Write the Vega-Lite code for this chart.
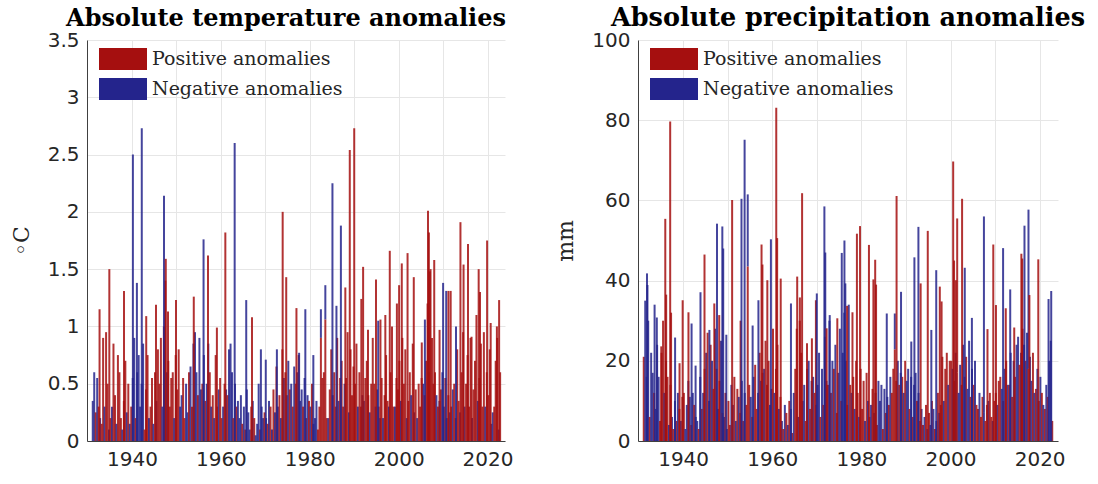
{
"$schema":"https://vega.github.io/schema/vega-lite/v6.json",
"background":"white",
"padding":{"left":10,"top":5,"right":5,"bottom":5},
"bounds":"flush",
"spacing":133,
"config":{
"view":{"stroke":null},
"axis":{"labelFont":"DejaVu Sans","labelFontSize":20,"labelColor":"#262626","titleFont":"DejaVu Serif","titleFontWeight":"normal","titleFontSize":22,"titleColor":"#262626","gridColor":"#e6e6e6","domainColor":"#404040","ticks":false},
"title":{"font":"DejaVu Serif","fontWeight":"bold","fontSize":24,"color":"#000000","baseline":"alphabetic","offset":-1},
"legend":{"orient":"none","legendX":24,"legendY":7,"title":null,"padding":0,"labelFont":"DejaVu Serif","labelFontSize":19,"labelColor":"#262626","labelLimit":0,"symbolType":"M-2,-0.92H2V0.92H-2Z","symbolSize":576,"symbolOpacity":1,"symbolStrokeWidth":0,"rowPadding":6,"labelOffset":17}
},
"datasets":{
"temp":[
{"t":1931.17,"v":0.35,"s":"N"},{"t":1931.5,"v":0.6,"s":"N"},{"t":1931.83,"v":0.25,"s":"P"},
{"t":1932.17,"v":0.55,"s":"N"},{"t":1932.5,"v":0.3,"s":"P"},{"t":1932.83,"v":0.2,"s":"N"},
{"t":1933.17,"v":0.15,"s":"P"},{"t":1933.5,"v":0.9,"s":"P"},{"t":1933.83,"v":0.3,"s":"N"},
{"t":1934.17,"v":0.95,"s":"P"},{"t":1934.5,"v":0.5,"s":"P"},{"t":1934.83,"v":0.1,"s":"N"},
{"t":1935.17,"v":0.2,"s":"P"},{"t":1935.5,"v":0.3,"s":"N"},{"t":1935.83,"v":0.85,"s":"P"},
{"t":1936.17,"v":0.4,"s":"P"},{"t":1936.5,"v":0.15,"s":"N"},{"t":1936.83,"v":0.75,"s":"P"},
{"t":1937.17,"v":0.6,"s":"P"},{"t":1937.5,"v":0.2,"s":"P"},{"t":1937.83,"v":0.1,"s":"N"},
{"t":1938.17,"v":0.35,"s":"P"},{"t":1938.5,"v":0.7,"s":"P"},{"t":1938.83,"v":0.25,"s":"N"},
{"t":1939.17,"v":0.5,"s":"P"},{"t":1939.5,"v":0.15,"s":"N"},{"t":1939.83,"v":0.3,"s":"P"},
{"t":1940.17,"v":0.55,"s":"N"},{"t":1940.5,"v":0.9,"s":"N"},{"t":1940.83,"v":0.2,"s":"P"},
{"t":1941.17,"v":0.6,"s":"N"},{"t":1941.5,"v":0.75,"s":"N"},{"t":1941.83,"v":0.3,"s":"N"},
{"t":1942.17,"v":0.5,"s":"N"},{"t":1942.5,"v":0.85,"s":"N"},{"t":1942.83,"v":0.1,"s":"P"},
{"t":1943.17,"v":0.45,"s":"P"},{"t":1943.5,"v":0.75,"s":"P"},{"t":1943.83,"v":0.2,"s":"N"},
{"t":1944.17,"v":0.3,"s":"P"},{"t":1944.5,"v":0.55,"s":"P"},{"t":1944.83,"v":0.15,"s":"N"},
{"t":1945.17,"v":0.6,"s":"P"},{"t":1945.5,"v":0.35,"s":"N"},{"t":1945.83,"v":0.8,"s":"P"},
{"t":1946.17,"v":0.5,"s":"P"},{"t":1946.5,"v":0.9,"s":"P"},{"t":1946.83,"v":0.3,"s":"N"},
{"t":1947.17,"v":1.0,"s":"P"},{"t":1947.5,"v":1.4,"s":"P"},{"t":1947.83,"v":0.6,"s":"N"},
{"t":1948.17,"v":0.7,"s":"P"},{"t":1948.5,"v":0.3,"s":"P"},{"t":1948.83,"v":0.55,"s":"P"},
{"t":1949.17,"v":0.6,"s":"P"},{"t":1949.5,"v":0.2,"s":"N"},{"t":1949.83,"v":0.75,"s":"P"},
{"t":1950.17,"v":0.45,"s":"P"},{"t":1950.5,"v":0.8,"s":"P"},{"t":1950.83,"v":0.3,"s":"N"},
{"t":1951.17,"v":0.4,"s":"N"},{"t":1951.5,"v":0.55,"s":"P"},{"t":1951.83,"v":0.2,"s":"P"},
{"t":1952.17,"v":0.5,"s":"N"},{"t":1952.5,"v":0.25,"s":"N"},{"t":1952.83,"v":0.6,"s":"P"},
{"t":1953.17,"v":0.65,"s":"N"},{"t":1953.5,"v":0.3,"s":"P"},{"t":1953.83,"v":0.85,"s":"N"},
{"t":1954.17,"v":0.95,"s":"N"},{"t":1954.5,"v":0.6,"s":"N"},{"t":1954.83,"v":0.4,"s":"P"},
{"t":1955.17,"v":0.9,"s":"N"},{"t":1955.5,"v":0.45,"s":"N"},{"t":1955.83,"v":0.5,"s":"P"},
{"t":1956.17,"v":0.75,"s":"N"},{"t":1956.5,"v":0.35,"s":"P"},{"t":1956.83,"v":0.5,"s":"N"},
{"t":1957.17,"v":0.85,"s":"N"},{"t":1957.5,"v":0.6,"s":"P"},{"t":1957.83,"v":0.3,"s":"N"},
{"t":1958.17,"v":0.4,"s":"P"},{"t":1958.5,"v":0.2,"s":"N"},{"t":1958.83,"v":0.75,"s":"P"},
{"t":1959.17,"v":0.3,"s":"P"},{"t":1959.5,"v":0.45,"s":"N"},{"t":1959.83,"v":0.55,"s":"P"},
{"t":1960.17,"v":0.2,"s":"P"},{"t":1960.5,"v":0.3,"s":"N"},{"t":1960.83,"v":0.5,"s":"P"},
{"t":1961.17,"v":0.45,"s":"N"},{"t":1961.5,"v":0.4,"s":"P"},{"t":1961.83,"v":0.8,"s":"N"},
{"t":1962.17,"v":0.85,"s":"N"},{"t":1962.5,"v":0.6,"s":"N"},{"t":1962.83,"v":0.2,"s":"P"},
{"t":1963.17,"v":0.5,"s":"N"},{"t":1963.5,"v":0.3,"s":"P"},{"t":1963.83,"v":0.35,"s":"N"},
{"t":1964.17,"v":0.2,"s":"N"},{"t":1964.5,"v":0.4,"s":"N"},{"t":1964.83,"v":0.15,"s":"P"},
{"t":1965.17,"v":0.3,"s":"N"},{"t":1965.5,"v":0.1,"s":"P"},{"t":1965.83,"v":0.45,"s":"N"},
{"t":1966.17,"v":0.25,"s":"N"},{"t":1966.5,"v":0.1,"s":"N"},{"t":1966.83,"v":0.3,"s":"P"},
{"t":1967.17,"v":0.35,"s":"N"},{"t":1967.5,"v":0.2,"s":"P"},{"t":1967.83,"v":0.05,"s":"N"},
{"t":1968.17,"v":0.15,"s":"N"},{"t":1968.5,"v":0.5,"s":"N"},{"t":1968.83,"v":0.1,"s":"P"},
{"t":1969.17,"v":0.3,"s":"N"},{"t":1969.5,"v":0.2,"s":"N"},{"t":1969.83,"v":0.25,"s":"P"},
{"t":1970.17,"v":0.2,"s":"N"},{"t":1970.5,"v":0.15,"s":"P"},{"t":1970.83,"v":0.35,"s":"N"},
{"t":1971.17,"v":0.3,"s":"P"},{"t":1971.5,"v":0.1,"s":"N"},{"t":1971.83,"v":0.45,"s":"P"},
{"t":1972.17,"v":0.25,"s":"N"},{"t":1972.5,"v":0.65,"s":"P"},{"t":1972.83,"v":0.3,"s":"N"},
{"t":1973.17,"v":0.4,"s":"P"},{"t":1973.5,"v":0.2,"s":"N"},{"t":1973.83,"v":0.8,"s":"P"},
{"t":1974.17,"v":0.55,"s":"N"},{"t":1974.5,"v":0.6,"s":"P"},{"t":1974.83,"v":0.4,"s":"N"},
{"t":1975.17,"v":0.7,"s":"N"},{"t":1975.5,"v":0.45,"s":"P"},{"t":1975.83,"v":0.5,"s":"N"},
{"t":1976.17,"v":0.3,"s":"P"},{"t":1976.5,"v":0.65,"s":"N"},{"t":1976.83,"v":0.5,"s":"P"},
{"t":1977.17,"v":0.6,"s":"N"},{"t":1977.5,"v":0.75,"s":"P"},{"t":1977.83,"v":0.35,"s":"N"},
{"t":1978.17,"v":0.45,"s":"N"},{"t":1978.5,"v":0.3,"s":"P"},{"t":1978.83,"v":0.55,"s":"N"},
{"t":1979.17,"v":0.2,"s":"P"},{"t":1979.5,"v":0.4,"s":"N"},{"t":1979.83,"v":0.35,"s":"P"},
{"t":1980.17,"v":0.3,"s":"N"},{"t":1980.5,"v":0.5,"s":"P"},{"t":1980.83,"v":0.15,"s":"N"},
{"t":1981.17,"v":0.2,"s":"N"},{"t":1981.5,"v":0.35,"s":"N"},{"t":1981.83,"v":0.1,"s":"P"},
{"t":1982.17,"v":0.3,"s":"P"},{"t":1982.5,"v":0.25,"s":"N"},{"t":1982.83,"v":0.55,"s":"P"},
{"t":1983.17,"v":0.6,"s":"P"},{"t":1983.5,"v":0.3,"s":"N"},{"t":1983.83,"v":0.2,"s":"P"},
{"t":1984.17,"v":0.2,"s":"N"},{"t":1984.5,"v":0.45,"s":"P"},{"t":1984.83,"v":0.8,"s":"P"},
{"t":1985.17,"v":0.4,"s":"N"},{"t":1985.5,"v":0.6,"s":"P"},{"t":1985.83,"v":0.3,"s":"P"},
{"t":1986.17,"v":0.9,"s":"P"},{"t":1986.5,"v":0.35,"s":"N"},{"t":1986.83,"v":0.55,"s":"P"},
{"t":1987.17,"v":0.7,"s":"P"},{"t":1987.5,"v":0.3,"s":"P"},{"t":1987.83,"v":0.5,"s":"N"},
{"t":1988.17,"v":0.55,"s":"P"},{"t":1988.5,"v":0.95,"s":"P"},{"t":1988.83,"v":0.25,"s":"N"},
{"t":1989.17,"v":0.8,"s":"P"},{"t":1989.5,"v":0.4,"s":"P"},{"t":1989.83,"v":0.65,"s":"P"},
{"t":1990.17,"v":0.5,"s":"P"},{"t":1990.5,"v":0.85,"s":"P"},{"t":1990.83,"v":0.3,"s":"N"},
{"t":1991.17,"v":0.6,"s":"P"},{"t":1991.5,"v":0.3,"s":"P"},{"t":1991.83,"v":0.4,"s":"N"},
{"t":1992.17,"v":0.35,"s":"N"},{"t":1992.5,"v":0.55,"s":"P"},{"t":1992.83,"v":0.7,"s":"P"},
{"t":1993.17,"v":0.4,"s":"P"},{"t":1993.5,"v":0.25,"s":"N"},{"t":1993.83,"v":0.5,"s":"P"},
{"t":1994.17,"v":0.9,"s":"P"},{"t":1994.5,"v":0.5,"s":"P"},{"t":1994.83,"v":0.3,"s":"N"},
{"t":1995.17,"v":0.45,"s":"N"},{"t":1995.5,"v":0.3,"s":"P"},{"t":1995.83,"v":0.2,"s":"N"},
{"t":1996.17,"v":0.55,"s":"P"},{"t":1996.5,"v":0.2,"s":"N"},{"t":1996.83,"v":0.4,"s":"P"},
{"t":1997.17,"v":0.75,"s":"P"},{"t":1997.5,"v":0.35,"s":"P"},{"t":1997.83,"v":0.3,"s":"N"},
{"t":1998.17,"v":0.6,"s":"P"},{"t":1998.5,"v":1.0,"s":"P"},{"t":1998.83,"v":0.3,"s":"P"},
{"t":1999.17,"v":0.3,"s":"N"},{"t":1999.5,"v":0.55,"s":"P"},{"t":1999.83,"v":0.45,"s":"P"},
{"t":2000.17,"v":0.7,"s":"P"},{"t":2000.5,"v":0.35,"s":"N"},{"t":2000.83,"v":0.9,"s":"P"},
{"t":2001.17,"v":0.5,"s":"P"},{"t":2001.5,"v":0.8,"s":"P"},{"t":2001.83,"v":0.2,"s":"N"},
{"t":2002.17,"v":0.35,"s":"P"},{"t":2002.5,"v":0.6,"s":"P"},{"t":2002.83,"v":0.4,"s":"N"},
{"t":2003.17,"v":0.85,"s":"P"},{"t":2003.5,"v":0.25,"s":"N"},{"t":2003.83,"v":0.45,"s":"P"},
{"t":2004.17,"v":0.2,"s":"N"},{"t":2004.5,"v":0.5,"s":"P"},{"t":2004.83,"v":0.3,"s":"P"},
{"t":2005.17,"v":0.55,"s":"P"},{"t":2005.5,"v":0.5,"s":"N"},{"t":2005.83,"v":0.4,"s":"P"},
{"t":2006.17,"v":0.7,"s":"P"},{"t":2006.5,"v":1.2,"s":"P"},{"t":2006.83,"v":0.6,"s":"P"},
{"t":2007.17,"v":1.5,"s":"P"},{"t":2007.5,"v":0.9,"s":"P"},{"t":2007.83,"v":0.5,"s":"P"},
{"t":2008.17,"v":0.6,"s":"P"},{"t":2008.5,"v":0.4,"s":"N"},{"t":2008.83,"v":0.3,"s":"P"},
{"t":2009.17,"v":0.35,"s":"N"},{"t":2009.5,"v":0.45,"s":"P"},{"t":2009.83,"v":0.6,"s":"N"},
{"t":2010.17,"v":0.3,"s":"N"},{"t":2010.5,"v":0.55,"s":"P"},{"t":2010.83,"v":0.2,"s":"N"},
{"t":2011.17,"v":0.4,"s":"P"},{"t":2011.5,"v":0.25,"s":"N"},{"t":2011.83,"v":0.3,"s":"P"},
{"t":2012.17,"v":0.45,"s":"N"},{"t":2012.5,"v":0.5,"s":"P"},{"t":2012.83,"v":0.2,"s":"P"},
{"t":2013.17,"v":0.8,"s":"P"},{"t":2013.5,"v":0.35,"s":"P"},{"t":2013.83,"v":0.25,"s":"N"},
{"t":2014.17,"v":0.6,"s":"P"},{"t":2014.5,"v":0.95,"s":"P"},{"t":2014.83,"v":0.3,"s":"N"},
{"t":2015.17,"v":0.5,"s":"P"},{"t":2015.5,"v":0.75,"s":"P"},{"t":2015.83,"v":0.3,"s":"P"},
{"t":2016.17,"v":0.9,"s":"P"},{"t":2016.5,"v":0.2,"s":"N"},{"t":2016.83,"v":0.45,"s":"P"},
{"t":2017.17,"v":0.7,"s":"P"},{"t":2017.5,"v":1.1,"s":"P"},{"t":2017.83,"v":0.35,"s":"N"},
{"t":2018.17,"v":0.55,"s":"P"},{"t":2018.5,"v":0.85,"s":"P"},{"t":2018.83,"v":0.3,"s":"P"},
{"t":2019.17,"v":0.95,"s":"P"},{"t":2019.5,"v":0.3,"s":"N"},{"t":2019.83,"v":0.6,"s":"P"},
{"t":2020.17,"v":0.4,"s":"P"},{"t":2020.5,"v":0.8,"s":"P"},{"t":2020.83,"v":0.15,"s":"N"},
{"t":2021.17,"v":0.25,"s":"N"},{"t":2021.5,"v":0.3,"s":"P"},{"t":2021.83,"v":0.7,"s":"P"},
{"t":2022.17,"v":0.9,"s":"P"},{"t":2022.5,"v":0.1,"s":"N"},{"t":2022.83,"v":0.6,"s":"P"},
{"t":1932.7,"v":1.15,"s":"P"},{"t":1934.9,"v":1.5,"s":"P"},{"t":1938.2,"v":1.31,"s":"P"},
{"t":1940.2,"v":2.5,"s":"N"},{"t":1941.1,"v":1.38,"s":"N"},{"t":1942.2,"v":2.73,"s":"N"},
{"t":1943.2,"v":1.09,"s":"P"},{"t":1945.4,"v":1.19,"s":"P"},{"t":1947.2,"v":2.14,"s":"N"},
{"t":1947.6,"v":1.59,"s":"P"},{"t":1948.1,"v":1.13,"s":"P"},{"t":1949.9,"v":1.23,"s":"P"},
{"t":1953.9,"v":1.26,"s":"P"},{"t":1956.1,"v":1.76,"s":"N"},{"t":1957.1,"v":1.62,"s":"P"},
{"t":1959.1,"v":0.99,"s":"P"},{"t":1961.0,"v":1.82,"s":"P"},{"t":1963.1,"v":2.6,"s":"N"},
{"t":1965.7,"v":1.23,"s":"N"},{"t":1967.0,"v":1.08,"s":"P"},{"t":1969.0,"v":0.8,"s":"N"},
{"t":1970.1,"v":0.71,"s":"N"},{"t":1972.6,"v":0.8,"s":"N"},{"t":1973.9,"v":2.0,"s":"P"},
{"t":1974.7,"v":1.43,"s":"P"},{"t":1977.0,"v":1.16,"s":"P"},{"t":1977.6,"v":0.77,"s":"N"},
{"t":1979.0,"v":1.15,"s":"N"},{"t":1980.8,"v":0.75,"s":"N"},{"t":1982.5,"v":0.9,"s":"P"},
{"t":1983.5,"v":1.06,"s":"P"},{"t":1985.1,"v":2.25,"s":"N"},{"t":1986.0,"v":1.18,"s":"N"},
{"t":1987.0,"v":1.88,"s":"N"},{"t":1988.0,"v":1.34,"s":"P"},{"t":1989.0,"v":2.54,"s":"P"},
{"t":1990.0,"v":2.73,"s":"P"},{"t":1991.6,"v":1.24,"s":"P"},{"t":1992.0,"v":1.52,"s":"P"},
{"t":1993.1,"v":0.97,"s":"P"},{"t":1994.9,"v":1.41,"s":"P"},{"t":1995.4,"v":1.05,"s":"N"},
{"t":1995.9,"v":1.06,"s":"P"},{"t":1997.0,"v":1.1,"s":"P"},{"t":1998.0,"v":1.66,"s":"P"},
{"t":1999.6,"v":1.2,"s":"P"},{"t":2000.1,"v":1.36,"s":"P"},{"t":2000.7,"v":1.55,"s":"P"},
{"t":2002.0,"v":1.64,"s":"P"},{"t":2003.4,"v":1.43,"s":"P"},{"t":2005.2,"v":0.86,"s":"P"},
{"t":2005.9,"v":1.06,"s":"N"},{"t":2006.6,"v":2.01,"s":"P"},{"t":2006.8,"v":1.82,"s":"P"},
{"t":2007.0,"v":1.48,"s":"P"},{"t":2008.0,"v":1.58,"s":"P"},{"t":2009.2,"v":0.97,"s":"P"},
{"t":2010.0,"v":1.38,"s":"N"},{"t":2010.7,"v":1.31,"s":"N"},{"t":2011.2,"v":1.31,"s":"P"},
{"t":2011.7,"v":1.31,"s":"P"},{"t":2012.9,"v":1.0,"s":"N"},{"t":2013.9,"v":1.91,"s":"P"},
{"t":2014.6,"v":1.54,"s":"P"},{"t":2015.6,"v":1.72,"s":"P"},{"t":2016.4,"v":0.91,"s":"P"},
{"t":2018.0,"v":1.5,"s":"P"},{"t":2018.3,"v":1.3,"s":"P"},{"t":2019.9,"v":1.75,"s":"P"},
{"t":2020.7,"v":1.03,"s":"P"},{"t":2022.1,"v":1.0,"s":"P"},{"t":2022.6,"v":1.23,"s":"P"}
],
"prec":[
{"t":1931.17,"v":21,"s":"P"},{"t":1931.5,"v":35,"s":"N"},{"t":1931.83,"v":16,"s":"N"},
{"t":1932.17,"v":30,"s":"N"},{"t":1932.5,"v":6,"s":"P"},{"t":1932.83,"v":22,"s":"N"},
{"t":1933.17,"v":17,"s":"N"},{"t":1933.5,"v":12,"s":"P"},{"t":1933.83,"v":8,"s":"N"},
{"t":1934.17,"v":24,"s":"N"},{"t":1934.5,"v":16,"s":"N"},{"t":1934.83,"v":5,"s":"P"},
{"t":1935.17,"v":22,"s":"P"},{"t":1935.5,"v":30,"s":"P"},{"t":1935.83,"v":12,"s":"N"},
{"t":1936.17,"v":20,"s":"P"},{"t":1936.5,"v":16,"s":"P"},{"t":1936.83,"v":4,"s":"N"},
{"t":1937.17,"v":14,"s":"P"},{"t":1937.5,"v":6,"s":"N"},{"t":1937.83,"v":3,"s":"P"},
{"t":1938.17,"v":10,"s":"N"},{"t":1938.5,"v":5,"s":"P"},{"t":1938.83,"v":12,"s":"N"},
{"t":1939.17,"v":8,"s":"P"},{"t":1939.5,"v":5,"s":"N"},{"t":1939.83,"v":11,"s":"P"},
{"t":1940.17,"v":12,"s":"P"},{"t":1940.5,"v":3,"s":"N"},{"t":1940.83,"v":9,"s":"N"},
{"t":1941.17,"v":15,"s":"N"},{"t":1941.5,"v":11,"s":"N"},{"t":1941.83,"v":4,"s":"P"},
{"t":1942.17,"v":12,"s":"N"},{"t":1942.5,"v":9,"s":"P"},{"t":1942.83,"v":6,"s":"N"},
{"t":1943.17,"v":5,"s":"N"},{"t":1943.5,"v":3,"s":"P"},{"t":1943.83,"v":16,"s":"N"},
{"t":1944.17,"v":8,"s":"P"},{"t":1944.5,"v":12,"s":"N"},{"t":1944.83,"v":18,"s":"P"},
{"t":1945.17,"v":22,"s":"N"},{"t":1945.5,"v":27,"s":"P"},{"t":1945.83,"v":10,"s":"N"},
{"t":1946.17,"v":24,"s":"P"},{"t":1946.5,"v":20,"s":"N"},{"t":1946.83,"v":13,"s":"P"},
{"t":1947.17,"v":28,"s":"N"},{"t":1947.5,"v":18,"s":"P"},{"t":1947.83,"v":8,"s":"N"},
{"t":1948.17,"v":15,"s":"P"},{"t":1948.5,"v":25,"s":"N"},{"t":1948.83,"v":7,"s":"P"},
{"t":1949.17,"v":6,"s":"N"},{"t":1949.5,"v":12,"s":"P"},{"t":1949.83,"v":3,"s":"N"},
{"t":1950.17,"v":10,"s":"P"},{"t":1950.5,"v":4,"s":"P"},{"t":1950.83,"v":14,"s":"N"},
{"t":1951.17,"v":9,"s":"N"},{"t":1951.5,"v":16,"s":"P"},{"t":1951.83,"v":5,"s":"N"},
{"t":1952.17,"v":13,"s":"P"},{"t":1952.5,"v":11,"s":"N"},{"t":1952.83,"v":7,"s":"P"},
{"t":1953.17,"v":15,"s":"N"},{"t":1953.5,"v":5,"s":"P"},{"t":1953.83,"v":12,"s":"N"},
{"t":1954.17,"v":9,"s":"P"},{"t":1954.5,"v":18,"s":"N"},{"t":1954.83,"v":14,"s":"P"},
{"t":1955.17,"v":11,"s":"N"},{"t":1955.5,"v":6,"s":"P"},{"t":1955.83,"v":16,"s":"N"},
{"t":1956.17,"v":19,"s":"P"},{"t":1956.5,"v":8,"s":"P"},{"t":1956.83,"v":12,"s":"N"},
{"t":1957.17,"v":22,"s":"P"},{"t":1957.5,"v":15,"s":"N"},{"t":1957.83,"v":17,"s":"P"},
{"t":1958.17,"v":18,"s":"N"},{"t":1958.5,"v":25,"s":"P"},{"t":1958.83,"v":14,"s":"P"},
{"t":1959.17,"v":20,"s":"P"},{"t":1959.5,"v":9,"s":"N"},{"t":1959.83,"v":13,"s":"P"},
{"t":1960.17,"v":28,"s":"P"},{"t":1960.5,"v":12,"s":"N"},{"t":1960.83,"v":18,"s":"P"},
{"t":1961.17,"v":24,"s":"P"},{"t":1961.5,"v":8,"s":"N"},{"t":1961.83,"v":11,"s":"P"},
{"t":1962.17,"v":5,"s":"N"},{"t":1962.5,"v":3,"s":"P"},{"t":1962.83,"v":9,"s":"N"},
{"t":1963.17,"v":7,"s":"P"},{"t":1963.5,"v":4,"s":"N"},{"t":1963.83,"v":10,"s":"P"},
{"t":1964.17,"v":8,"s":"N"},{"t":1964.5,"v":2,"s":"P"},{"t":1964.83,"v":12,"s":"N"},
{"t":1965.17,"v":18,"s":"P"},{"t":1965.5,"v":28,"s":"P"},{"t":1965.83,"v":6,"s":"N"},
{"t":1966.17,"v":30,"s":"P"},{"t":1966.5,"v":22,"s":"P"},{"t":1966.83,"v":10,"s":"N"},
{"t":1967.17,"v":14,"s":"N"},{"t":1967.5,"v":5,"s":"P"},{"t":1967.83,"v":18,"s":"N"},
{"t":1968.17,"v":20,"s":"N"},{"t":1968.5,"v":8,"s":"P"},{"t":1968.83,"v":15,"s":"N"},
{"t":1969.17,"v":16,"s":"N"},{"t":1969.5,"v":12,"s":"P"},{"t":1969.83,"v":9,"s":"N"},
{"t":1970.17,"v":14,"s":"N"},{"t":1970.5,"v":22,"s":"N"},{"t":1970.83,"v":6,"s":"P"},
{"t":1971.17,"v":18,"s":"N"},{"t":1971.5,"v":9,"s":"P"},{"t":1971.83,"v":26,"s":"N"},
{"t":1972.17,"v":15,"s":"N"},{"t":1972.5,"v":14,"s":"P"},{"t":1972.83,"v":30,"s":"N"},
{"t":1973.17,"v":12,"s":"P"},{"t":1973.5,"v":20,"s":"N"},{"t":1973.83,"v":18,"s":"P"},
{"t":1974.17,"v":24,"s":"N"},{"t":1974.5,"v":7,"s":"P"},{"t":1974.83,"v":17,"s":"N"},
{"t":1975.17,"v":28,"s":"N"},{"t":1975.5,"v":10,"s":"P"},{"t":1975.83,"v":22,"s":"N"},
{"t":1976.17,"v":32,"s":"N"},{"t":1976.5,"v":20,"s":"N"},{"t":1976.83,"v":9,"s":"P"},
{"t":1977.17,"v":34,"s":"N"},{"t":1977.5,"v":14,"s":"P"},{"t":1977.83,"v":12,"s":"N"},
{"t":1978.17,"v":16,"s":"P"},{"t":1978.5,"v":8,"s":"N"},{"t":1978.83,"v":20,"s":"P"},
{"t":1979.17,"v":12,"s":"P"},{"t":1979.5,"v":6,"s":"N"},{"t":1979.83,"v":18,"s":"P"},
{"t":1980.17,"v":8,"s":"P"},{"t":1980.5,"v":15,"s":"P"},{"t":1980.83,"v":5,"s":"N"},
{"t":1981.17,"v":17,"s":"P"},{"t":1981.5,"v":10,"s":"N"},{"t":1981.83,"v":6,"s":"P"},
{"t":1982.17,"v":9,"s":"N"},{"t":1982.5,"v":13,"s":"P"},{"t":1982.83,"v":7,"s":"N"},
{"t":1983.17,"v":12,"s":"N"},{"t":1983.5,"v":4,"s":"P"},{"t":1983.83,"v":15,"s":"N"},
{"t":1984.17,"v":10,"s":"N"},{"t":1984.5,"v":14,"s":"N"},{"t":1984.83,"v":3,"s":"P"},
{"t":1985.17,"v":13,"s":"N"},{"t":1985.5,"v":7,"s":"P"},{"t":1985.83,"v":11,"s":"N"},
{"t":1986.17,"v":9,"s":"P"},{"t":1986.5,"v":16,"s":"N"},{"t":1986.83,"v":12,"s":"P"},
{"t":1987.17,"v":18,"s":"P"},{"t":1987.5,"v":9,"s":"N"},{"t":1987.83,"v":15,"s":"P"},
{"t":1988.17,"v":20,"s":"N"},{"t":1988.5,"v":14,"s":"P"},{"t":1988.83,"v":17,"s":"N"},
{"t":1989.17,"v":16,"s":"P"},{"t":1989.5,"v":12,"s":"N"},{"t":1989.83,"v":20,"s":"P"},
{"t":1990.17,"v":15,"s":"N"},{"t":1990.5,"v":18,"s":"N"},{"t":1990.83,"v":8,"s":"P"},
{"t":1991.17,"v":16,"s":"N"},{"t":1991.5,"v":6,"s":"P"},{"t":1991.83,"v":14,"s":"N"},
{"t":1992.17,"v":17,"s":"N"},{"t":1992.5,"v":10,"s":"P"},{"t":1992.83,"v":12,"s":"N"},
{"t":1993.17,"v":5,"s":"P"},{"t":1993.5,"v":8,"s":"N"},{"t":1993.83,"v":4,"s":"P"},
{"t":1994.17,"v":6,"s":"N"},{"t":1994.5,"v":9,"s":"P"},{"t":1994.83,"v":3,"s":"N"},
{"t":1995.17,"v":7,"s":"P"},{"t":1995.5,"v":4,"s":"N"},{"t":1995.83,"v":10,"s":"P"},
{"t":1996.17,"v":8,"s":"N"},{"t":1996.5,"v":3,"s":"P"},{"t":1996.83,"v":5,"s":"N"},
{"t":1997.17,"v":12,"s":"P"},{"t":1997.5,"v":7,"s":"N"},{"t":1997.83,"v":9,"s":"P"},
{"t":1998.17,"v":21,"s":"P"},{"t":1998.5,"v":10,"s":"N"},{"t":1998.83,"v":18,"s":"P"},
{"t":1999.17,"v":22,"s":"P"},{"t":1999.5,"v":14,"s":"N"},{"t":1999.83,"v":20,"s":"P"},
{"t":2000.17,"v":20,"s":"P"},{"t":2000.5,"v":18,"s":"N"},{"t":2000.83,"v":15,"s":"P"},
{"t":2001.17,"v":22,"s":"N"},{"t":2001.5,"v":17,"s":"P"},{"t":2001.83,"v":12,"s":"N"},
{"t":2002.17,"v":19,"s":"N"},{"t":2002.5,"v":14,"s":"P"},{"t":2002.83,"v":24,"s":"N"},
{"t":2003.17,"v":16,"s":"N"},{"t":2003.5,"v":21,"s":"P"},{"t":2003.83,"v":13,"s":"N"},
{"t":2004.17,"v":25,"s":"N"},{"t":2004.5,"v":11,"s":"P"},{"t":2004.83,"v":18,"s":"N"},
{"t":2005.17,"v":14,"s":"P"},{"t":2005.5,"v":20,"s":"N"},{"t":2005.83,"v":9,"s":"P"},
{"t":2006.17,"v":8,"s":"P"},{"t":2006.5,"v":12,"s":"N"},{"t":2006.83,"v":6,"s":"P"},
{"t":2007.17,"v":11,"s":"P"},{"t":2007.5,"v":7,"s":"N"},{"t":2007.83,"v":5,"s":"P"},
{"t":2008.17,"v":9,"s":"P"},{"t":2008.5,"v":10,"s":"N"},{"t":2008.83,"v":12,"s":"P"},
{"t":2009.17,"v":6,"s":"P"},{"t":2009.5,"v":5,"s":"N"},{"t":2009.83,"v":10,"s":"P"},
{"t":2010.17,"v":12,"s":"P"},{"t":2010.5,"v":9,"s":"N"},{"t":2010.83,"v":15,"s":"P"},
{"t":2011.17,"v":16,"s":"P"},{"t":2011.5,"v":13,"s":"N"},{"t":2011.83,"v":10,"s":"P"},
{"t":2012.17,"v":18,"s":"N"},{"t":2012.5,"v":20,"s":"P"},{"t":2012.83,"v":14,"s":"N"},
{"t":2013.17,"v":14,"s":"P"},{"t":2013.5,"v":22,"s":"N"},{"t":2013.83,"v":11,"s":"P"},
{"t":2014.17,"v":20,"s":"N"},{"t":2014.5,"v":16,"s":"P"},{"t":2014.83,"v":24,"s":"N"},
{"t":2015.17,"v":26,"s":"N"},{"t":2015.5,"v":19,"s":"P"},{"t":2015.83,"v":22,"s":"N"},
{"t":2016.17,"v":28,"s":"P"},{"t":2016.5,"v":24,"s":"N"},{"t":2016.83,"v":20,"s":"P"},
{"t":2017.17,"v":27,"s":"N"},{"t":2017.5,"v":18,"s":"P"},{"t":2017.83,"v":21,"s":"N"},
{"t":2018.17,"v":15,"s":"N"},{"t":2018.5,"v":22,"s":"P"},{"t":2018.83,"v":12,"s":"N"},
{"t":2019.17,"v":13,"s":"P"},{"t":2019.5,"v":18,"s":"N"},{"t":2019.83,"v":10,"s":"P"},
{"t":2020.17,"v":16,"s":"N"},{"t":2020.5,"v":12,"s":"P"},{"t":2020.83,"v":9,"s":"N"},
{"t":2021.17,"v":8,"s":"P"},{"t":2021.5,"v":14,"s":"N"},{"t":2021.83,"v":11,"s":"P"},
{"t":2022.17,"v":20,"s":"N"},{"t":2022.5,"v":25,"s":"N"},{"t":2022.83,"v":5,"s":"P"},
{"t":1931.9,"v":41.8,"s":"N"},{"t":1932.0,"v":38.9,"s":"N"},{"t":1933.6,"v":34,"s":"N"},
{"t":1934.1,"v":30.8,"s":"N"},{"t":1935.1,"v":23.6,"s":"P"},{"t":1936.0,"v":55.4,"s":"P"},
{"t":1936.2,"v":36.5,"s":"P"},{"t":1937.1,"v":79.7,"s":"P"},{"t":1937.3,"v":32,"s":"P"},
{"t":1938.2,"v":25.8,"s":"N"},{"t":1939.2,"v":19.4,"s":"P"},{"t":1939.9,"v":35.1,"s":"P"},
{"t":1941.2,"v":32.1,"s":"P"},{"t":1941.9,"v":29.3,"s":"N"},{"t":1942.8,"v":18.8,"s":"N"},
{"t":1943.9,"v":37.1,"s":"N"},{"t":1944.8,"v":46.5,"s":"P"},{"t":1945.9,"v":27.7,"s":"N"},
{"t":1947.0,"v":34.3,"s":"P"},{"t":1947.6,"v":54.2,"s":"N"},{"t":1948.1,"v":31.4,"s":"P"},
{"t":1948.8,"v":53.5,"s":"N"},{"t":1949.0,"v":48,"s":"N"},{"t":1949.7,"v":26.5,"s":"N"},
{"t":1951.0,"v":60.1,"s":"P"},{"t":1952.9,"v":30,"s":"P"},{"t":1953.1,"v":60.4,"s":"N"},
{"t":1953.8,"v":75.1,"s":"N"},{"t":1954.5,"v":43.5,"s":"P"},{"t":1955.6,"v":28.8,"s":"N"},
{"t":1956.9,"v":35.1,"s":"N"},{"t":1957.6,"v":49,"s":"P"},{"t":1957.8,"v":44,"s":"P"},
{"t":1958.9,"v":40.1,"s":"P"},{"t":1959.7,"v":50.3,"s":"N"},{"t":1960.9,"v":83.1,"s":"P"},
{"t":1961.1,"v":50.6,"s":"P"},{"t":1961.9,"v":40.5,"s":"P"},{"t":1964.2,"v":34.3,"s":"N"},
{"t":1965.6,"v":41,"s":"P"},{"t":1966.2,"v":35.8,"s":"P"},{"t":1966.7,"v":61.8,"s":"P"},
{"t":1967.8,"v":24.4,"s":"P"},{"t":1968.9,"v":25.6,"s":"P"},{"t":1969.8,"v":35.1,"s":"P"},
{"t":1970.0,"v":36.8,"s":"N"},{"t":1971.7,"v":58.5,"s":"N"},{"t":1971.9,"v":47,"s":"N"},
{"t":1972.2,"v":28.1,"s":"P"},{"t":1972.9,"v":31.4,"s":"N"},{"t":1974.6,"v":30.6,"s":"P"},
{"t":1975.6,"v":46.9,"s":"N"},{"t":1976.2,"v":50,"s":"N"},{"t":1976.4,"v":39.3,"s":"N"},
{"t":1976.8,"v":33.7,"s":"P"},{"t":1978.0,"v":32.1,"s":"P"},{"t":1979.0,"v":51.7,"s":"P"},
{"t":1979.7,"v":53.6,"s":"P"},{"t":1981.7,"v":48.9,"s":"P"},{"t":1982.7,"v":40.3,"s":"P"},
{"t":1983.1,"v":45.2,"s":"P"},{"t":1983.3,"v":39,"s":"P"},{"t":1985.7,"v":31.8,"s":"N"},
{"t":1987.5,"v":22.8,"s":"P"},{"t":1987.9,"v":61.1,"s":"P"},{"t":1988.9,"v":37.2,"s":"N"},
{"t":1991.2,"v":24.8,"s":"N"},{"t":1991.9,"v":45.8,"s":"N"},{"t":1992.8,"v":53.4,"s":"N"},
{"t":1993.3,"v":39.3,"s":"P"},{"t":1994.9,"v":52.4,"s":"P"},{"t":1995.7,"v":27.7,"s":"N"},
{"t":1996.8,"v":42.6,"s":"N"},{"t":1997.6,"v":38.5,"s":"P"},{"t":1998.0,"v":34.8,"s":"P"},
{"t":2000.6,"v":69.7,"s":"P"},{"t":2000.8,"v":45,"s":"P"},{"t":2001.2,"v":40.1,"s":"P"},
{"t":2001.5,"v":38.5,"s":"P"},{"t":2002.6,"v":60.4,"s":"P"},{"t":2003.2,"v":43.2,"s":"N"},
{"t":2004.8,"v":30.7,"s":"N"},{"t":2007.5,"v":49,"s":"N"},{"t":2008.3,"v":27.9,"s":"P"},
{"t":2009.6,"v":49,"s":"P"},{"t":2010.2,"v":33.9,"s":"P"},{"t":2011.8,"v":48.1,"s":"N"},
{"t":2012.4,"v":33.1,"s":"P"},{"t":2013.4,"v":37.8,"s":"N"},{"t":2014.3,"v":28.3,"s":"P"},
{"t":2015.9,"v":46.7,"s":"P"},{"t":2016.1,"v":45.5,"s":"P"},{"t":2016.6,"v":53.7,"s":"N"},
{"t":2017.5,"v":39.7,"s":"N"},{"t":2017.7,"v":36.4,"s":"P"},{"t":2019.7,"v":45.3,"s":"P"},
{"t":2022.0,"v":35.4,"s":"N"},{"t":2022.6,"v":37.4,"s":"N"}
]
},
"hconcat":[
{
"width":418,"height":401,
"title":{"text":"Absolute temperature anomalies","dx":-10},
"data":{"name":"temp"},
"mark":{"type":"bar","size":2,"opacity":0.85},
"encoding":{
"x":{"field":"t","type":"quantitative","scale":{"domain":[1931,2022.8],"nice":false,"zero":false},"axis":{"title":null,"values":[1940,1950,1960,1970,1980,1990,2000,2010,2020],"labelExpr":"datum.value % 20 == 0 ? datum.label : ''","format":"d","labelPadding":8}},
"y":{"field":"v","type":"quantitative","scale":{"domain":[0,3.5],"nice":false},"axis":{"title":"◦C","values":[0,0.5,1,1.5,2,2.5,3,3.5],"format":"~g","labelPadding":8,"titlePadding":14}},
"color":{"field":"s","type":"nominal","scale":{"domain":["P","N"],"range":["#a50f0f","#24248c"]},"legend":{"labelExpr":"datum.value == 'P' ? 'Positive anomalies' : 'Negative anomalies'","encode":{"symbols":{"update":{"fill":{"signal":"datum.value == 'P' ? '#7f0000' : '#1c1c6c'"}}}}}}
}
},
{
"width":420,"height":401,
"title":{"text":"Absolute precipitation anomalies","fontSize":25.5},
"data":{"name":"prec"},
"mark":{"type":"bar","size":2,"opacity":0.85},
"encoding":{
"x":{"field":"t","type":"quantitative","scale":{"domain":[1931,2023],"nice":false,"zero":false},"axis":{"title":null,"values":[1940,1950,1960,1970,1980,1990,2000,2010,2020],"labelExpr":"datum.value % 20 == 0 ? datum.label : ''","format":"d","labelPadding":8}},
"y":{"field":"v","type":"quantitative","scale":{"domain":[0,100],"nice":false},"axis":{"title":"mm","values":[0,20,40,60,80,100],"labelPadding":8,"titlePadding":14}},
"color":{"field":"s","type":"nominal","scale":{"domain":["P","N"],"range":["#a50f0f","#24248c"]},"legend":{"labelExpr":"datum.value == 'P' ? 'Positive anomalies' : 'Negative anomalies'","encode":{"symbols":{"update":{"fill":{"signal":"datum.value == 'P' ? '#7f0000' : '#1c1c6c'"}}}}}}
}
}
],
"resolve":{"scale":{"color":"independent"},"legend":{"color":"independent"}}
}
